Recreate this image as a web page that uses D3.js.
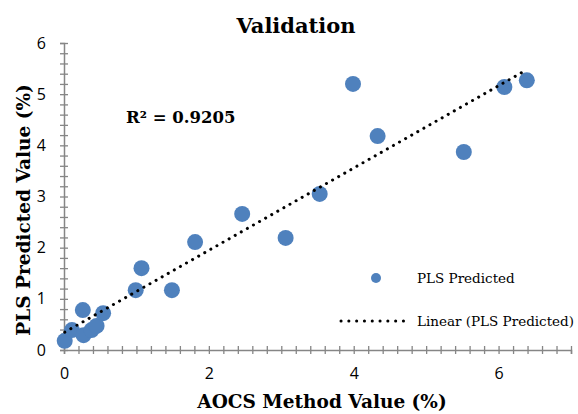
<!DOCTYPE html>
<html>
<head>
<meta charset="utf-8">
<script src="https://cdn.jsdelivr.net/npm/d3@7"></script>
<style>
  body { margin: 0; background: #fff; }
  text { fill: #000; }
</style>
</head>
<body>
<div id="chart"></div>
<script>
// data
var aocs = [0.01, 0.11, 0.26, 0.27, 0.38, 0.45, 0.54, 0.99, 1.07, 1.49, 1.81, 2.46, 3.06, 3.53, 3.99, 4.33, 5.52, 6.08, 6.39];
var pls  = [0.18, 0.39, 0.78, 0.29, 0.39, 0.47, 0.72, 1.17, 1.60, 1.17, 2.11, 2.66, 2.19, 3.05, 5.20, 4.18, 3.87, 5.14, 5.27];
var xTicks = [0, 2, 4, 6];
var yTicks = [0, 1, 2, 3, 4, 5, 6];
var rSquared = "R² = 0.9205";
var seriesName = "PLS Predicted";
var trendName = "Linear (PLS Predicted)";

var W = 578, H = 414;
var margin = {top: 43, right: 7, bottom: 64, left: 64};
var width = W - margin.left - margin.right,
    height = H - margin.top - margin.bottom;

var svg = d3.select("#chart").append("svg")
    .attr("width", W).attr("height", H);
var g = svg.append("g")
    .attr("transform", "translate(" + margin.left + "," + margin.top + ")");

var x = d3.scaleLinear().domain([0, 7]).range([0, width]);
var y = d3.scaleLinear().domain([0, 6]).range([height, 0]);

var axisColor = "#868686";
var serif = "'DejaVu Serif', 'Liberation Serif', serif";
var sans = "'Open Sans', 'Noto Sans', sans-serif";

// minor ticks every 0.2
var xMinor = d3.range(0, 7.0001, 0.2).map(function(d){ return +d.toFixed(1); });
var yMinor = d3.range(0, 6.0001, 0.2).map(function(d){ return +d.toFixed(1); });

var xAxis = g.append("g")
    .attr("transform", "translate(0," + height + ")")
    .call(d3.axisBottom(x).tickValues(xMinor).tickSize(4).tickPadding(14)
      .tickFormat(function(d){ return xTicks.indexOf(d) >= 0 ? d : ""; }));
xAxis.select(".domain").attr("stroke", axisColor).attr("stroke-width", 1.5);
xAxis.selectAll(".tick line").attr("y1", -4).attr("stroke", axisColor).attr("stroke-width", 1.3);
xAxis.selectAll("text").style("font-family", sans).style("font-size", "16px").attr("fill", "#000");

var yAxis = g.append("g")
    .call(d3.axisLeft(y).tickValues(yMinor).tickSize(4).tickPadding(14)
      .tickFormat(function(d){ return yTicks.indexOf(d) >= 0 ? d : ""; }));
yAxis.select(".domain").attr("stroke", axisColor).attr("stroke-width", 1.5);
yAxis.selectAll(".tick line").attr("x1", 4).attr("stroke", axisColor).attr("stroke-width", 1.3);
yAxis.selectAll("text").style("font-family", sans).style("font-size", "16px").attr("fill", "#000");

// points
var pts = aocs.map(function(d, i){ return {x: d, y: pls[i]}; });
g.selectAll("circle.pt").data(pts).enter().append("circle")
    .attr("class", "pt")
    .attr("cx", function(d){ return x(d.x); })
    .attr("cy", function(d){ return y(d.y); })
    .attr("r", 8)
    .attr("fill", "#4F81BD");

// linear trendline (least squares)
var mx = d3.mean(aocs), my = d3.mean(pls);
var sxy = d3.sum(pts, function(d){ return (d.x - mx) * (d.y - my); });
var sxx = d3.sum(pts, function(d){ return (d.x - mx) * (d.x - mx); });
var slope = sxy / sxx, icpt = my - slope * mx;
var ends = d3.extent(aocs);
g.append("path")
    .datum(ends.map(function(v){ return {x: v, y: icpt + slope * v}; }))
    .attr("fill", "none")
    .attr("stroke", "#000")
    .attr("stroke-width", 3)
    .attr("stroke-linecap", "round")
    .attr("stroke-dasharray", "0.1 6.9")
    .attr("d", d3.line().x(function(d){ return x(d.x); }).y(function(d){ return y(d.y); }));

// R squared
svg.append("text")
    .attr("x", 126).attr("y", 123)
    .style("font-family", serif).style("font-weight", "bold").style("font-size", "16.5px")
    .text(rSquared);

// title
svg.append("text")
    .attr("x", 296).attr("y", 33)
    .attr("text-anchor", "middle")
    .style("font-family", serif).style("font-weight", "bold").style("font-size", "21px")
    .text("Validation");

// axis titles
svg.append("text")
    .attr("x", 322).attr("y", 408)
    .attr("text-anchor", "middle")
    .style("font-family", serif).style("font-weight", "bold").style("font-size", "18.5px")
    .text("AOCS Method Value (%)");

svg.append("text")
    .attr("transform", "translate(30,210) rotate(-90)")
    .attr("text-anchor", "middle")
    .style("font-family", serif).style("font-weight", "bold").style("font-size", "18.5px")
    .text("PLS Predicted Value (%)");

// legend
var leg = svg.append("g");
leg.append("circle").attr("cx", 376).attr("cy", 278).attr("r", 5).attr("fill", "#4F81BD");
leg.append("text").attr("x", 417).attr("y", 283)
    .style("font-family", serif).style("font-size", "13.5px")
    .text(seriesName);
leg.append("line")
    .attr("x1", 341).attr("x2", 411).attr("y1", 321).attr("y2", 321)
    .attr("stroke", "#000").attr("stroke-width", 3)
    .attr("stroke-linecap", "round").attr("stroke-dasharray", "0.1 7.7");
leg.append("text").attr("x", 417).attr("y", 326)
    .style("font-family", serif).style("font-size", "13.5px")
    .text(trendName);
</script>
</body>
</html>
